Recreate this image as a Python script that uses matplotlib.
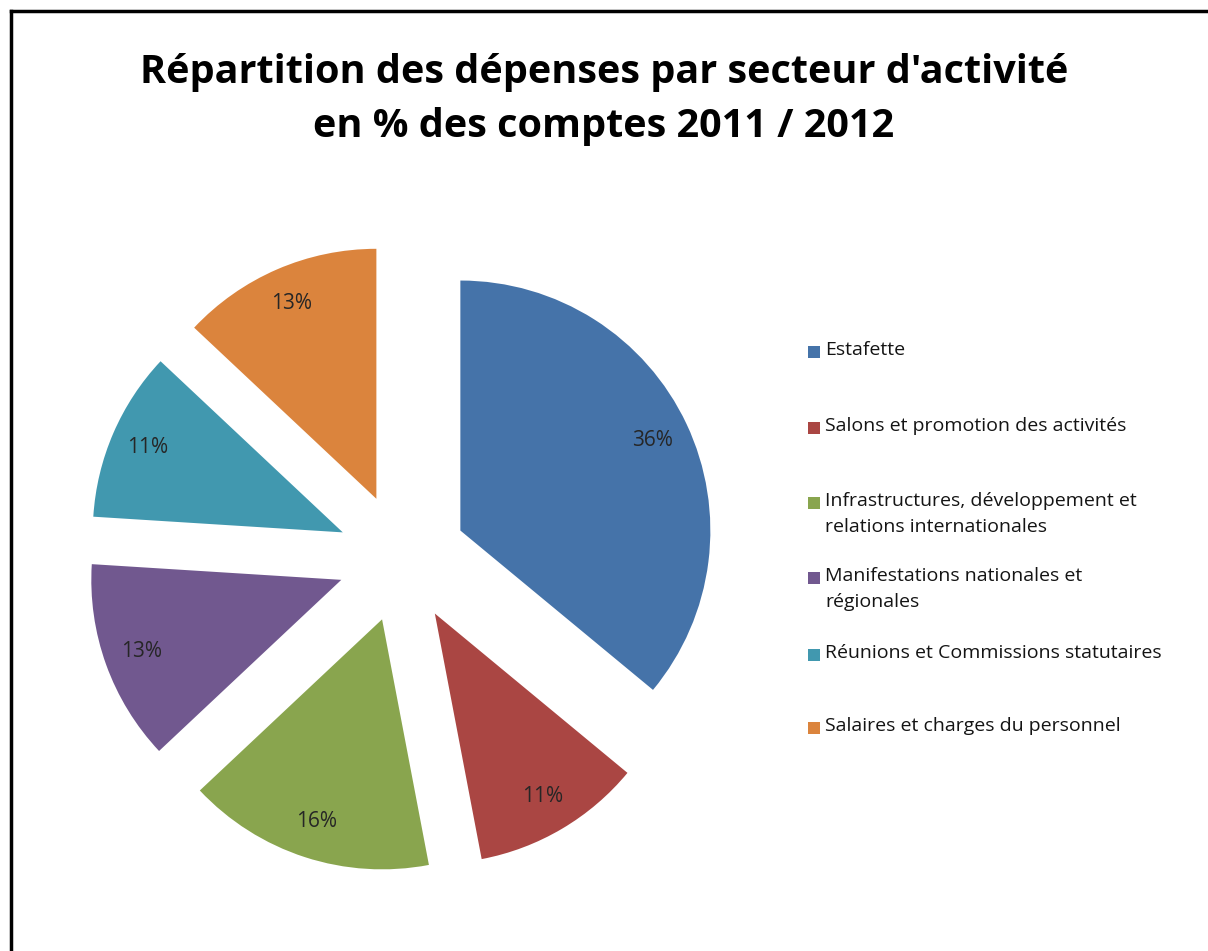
import matplotlib.pyplot as plt
from matplotlib.lines import Line2D
from matplotlib.patches import Rectangle

# Data
categories = ["Estafette",
              "Salons et promotion des activités",
              "Infrastructures, développement et\nrelations internationales",
              "Manifestations nationales et\nrégionales",
              "Réunions et Commissions statutaires",
              "Salaires et charges du personnel"]
values = [36, 11, 16, 13, 11, 13]
colors = ['#4573a9', '#aa4643', '#89a54e', '#71588f', '#4198af', '#db843d']

plt.rcParams['font.family'] = ['Open Sans', 'DejaVu Sans']

W, H = 1208, 951
fig = plt.figure(figsize=(W / 100, H / 100), dpi=100)

# pie centre ~ (402, 558) px, radius ~250 px
r_px = 250
span = 1.5
cx, cy = 402, H - 558
ax = fig.add_axes([(cx - span * r_px) / W, (cy - span * r_px) / H,
                   2 * span * r_px / W, 2 * span * r_px / H])
wedges, texts, autotexts = ax.pie(values, colors=colors, startangle=90, counterclock=False,
                                  explode=[0.258] * len(values), autopct='%1.0f%%',
                                  pctdistance=0.85, textprops={'fontsize': 15, 'color': '#262626'})
for w in wedges:
    w.set_clip_on(False)
ax.set_xlim(-span, span)
ax.set_ylim(-span, span)
ax.set_aspect('equal')
ax.axis('off')

fig.text(0.5, 1 - 72 / H, "Répartition des dépenses par secteur d'activité", ha='center', va='center',
         fontsize=28.5, fontweight='bold')
fig.text(0.5, 1 - 126 / H, "en % des comptes 2011 / 2012", ha='center', va='center',
         fontsize=28.5, fontweight='bold')

# legend, entries evenly spaced by first line
leg_y = [352, 428, 503, 578, 655, 728]
for lab, col, y in zip(categories, colors, leg_y):
    fig.patches.append(Rectangle((808 / W, 1 - (y + 6) / H), 12 / W, 12 / H,
                                 transform=fig.transFigure, facecolor=col, edgecolor='none'))
    fig.text(825 / W, 1 - (y - 11) / H, lab, ha='left', va='top', fontsize=14,
             color='#141414', linespacing=1.6)

# frame on left and top
fig.add_artist(Line2D([10.5 / W, 10.5 / W], [0, 1 - 10.5 / H], color='black', lw=2.5))
fig.add_artist(Line2D([10.5 / W, 1], [1 - 10.5 / H, 1 - 10.5 / H], color='black', lw=2.5))

fig.savefig('out.png', dpi=100)
